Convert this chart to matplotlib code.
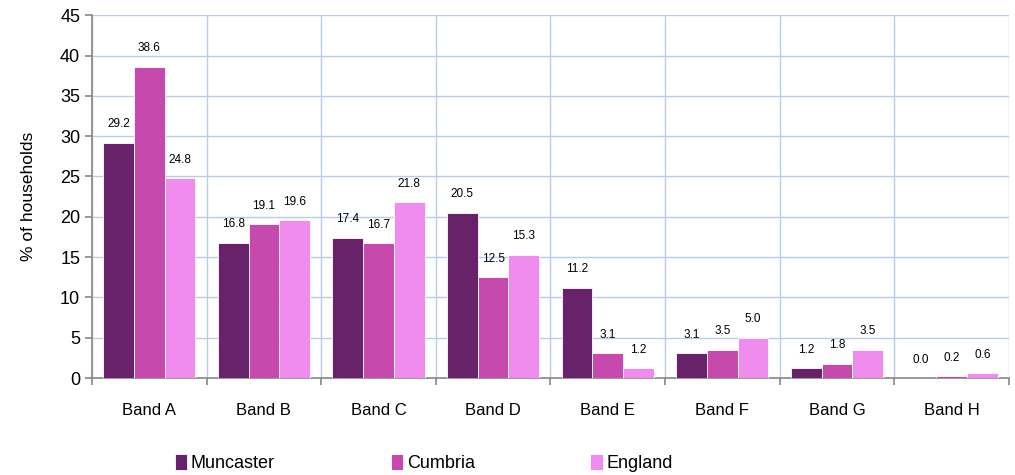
import numpy as np
import matplotlib.pyplot as plt

plt.rcParams['font.family'] = ['Liberation Sans', 'DejaVu Sans']

bands = ["Band A", "Band B", "Band C", "Band D", "Band E", "Band F", "Band G", "Band H"]
muncaster = [29.2, 16.8, 17.4, 20.5, 11.2, 3.1, 1.2, 0.0]
cumbria = [38.6, 19.1, 16.7, 12.5, 3.1, 3.5, 1.8, 0.2]
england = [24.8, 19.6, 21.8, 15.3, 1.2, 5.0, 3.5, 0.6]

series = [("Muncaster", muncaster, "#68226A"),
          ("Cumbria", cumbria, "#C64AAE"),
          ("England", england, "#F08CEE")]


def main():
    fig = plt.figure(figsize=(10.15, 4.75), dpi=100)
    ax = fig.add_axes([0.0906, 0.204, 0.9034, 0.764])

    x = np.arange(len(bands))
    w = 0.268
    for i, (name, vals, col) in enumerate(series):
        bars = ax.bar(x + (i - 1) * w, vals, w, color=col, edgecolor="white",
                      linewidth=0.6, label=name, zorder=3)
        for b, v in zip(bars, vals):
            ax.annotate(f"{v:.1f}", (b.get_x() + b.get_width() / 2, v),
                        xytext=(0, 9), textcoords="offset points",
                        ha="center", va="bottom", fontsize=8.5)

    ax.set_xlim(-0.5, len(bands) - 0.5)
    ax.set_ylim(0, 45)
    ax.set_yticks(range(0, 46, 5))
    ax.set_xticks(x)
    ax.set_xticklabels(bands, fontsize=12)
    ax.tick_params(axis="x", length=0, pad=18)
    ax.set_xticks(np.arange(-0.5, len(bands)), minor=True)
    ax.tick_params(axis="x", which="minor", length=5, color="#888888", width=1.2)
    ax.tick_params(axis="y", labelsize=13, length=5, color="#888888", width=1.2)
    ax.grid(True, which="minor", axis="x", color="#B9CDE5", linewidth=1, zorder=0)
    ax.grid(True, which="major", axis="y", color="#B9CDE5", linewidth=1, zorder=0)
    ax.set_ylabel("% of households", fontsize=12.5, labelpad=17)

    for s in ["top", "right"]:
        ax.spines[s].set_visible(False)
    for s in ["left", "bottom"]:
        ax.spines[s].set_color("#888888")
        ax.spines[s].set_linewidth(1.2)

    fig.legend(loc="center left", bbox_to_anchor=(0.165, 0.025), ncol=3,
               frameon=False, fontsize=13, handlelength=0.7, handleheight=1.0,
               handletextpad=0.2, columnspacing=6.4, borderaxespad=0)

    fig.savefig("out.png", dpi=100)


if __name__ == "__main__":
    main()
